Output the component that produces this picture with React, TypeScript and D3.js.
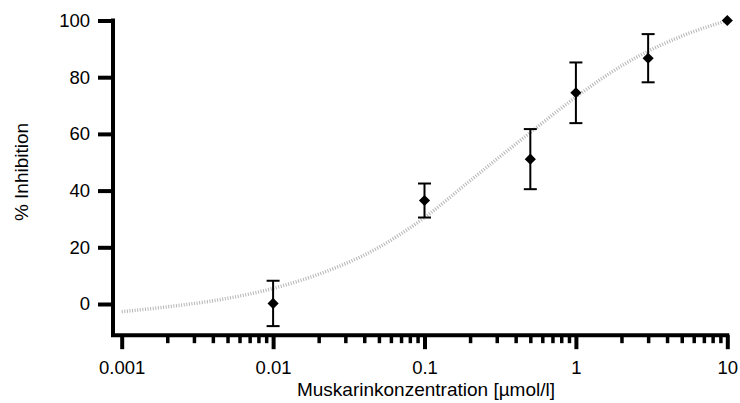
import React, { useRef, useEffect } from 'react';
import * as d3 from 'd3';

// measured points (mean +/- SD)
const CONC = [0.01, 0.1, 0.5, 1, 3, 10];
const INHIBITION = [0.2, 36.5, 51.1, 74.5, 86.7, 100];
const ERR = [8, 6, 10.6, 10.7, 8.5, 0];

// fitted curve
const FIT_CONC = [0.001, 0.002, 0.005, 0.01, 0.02, 0.05, 0.1, 0.2, 0.5, 1, 2, 5, 10];
const FIT_PCT = [-2.7, -1.0, 2.0, 5.5, 10.5, 20, 30.5, 43.5, 60.5, 73, 84, 94.5, 100];

const X_MAJOR = [0.001, 0.01, 0.1, 1, 10];
const X_LABELS = ['0.001', '0.01', '0.1', '1', '10'];
const Y_TICKS = [0, 20, 40, 60, 80, 100];

const FONT = '"Liberation Sans", Arial, sans-serif';

function App() {
    const svgRef = useRef<SVGSVGElement>(null);
    const width = 740;
    const height = 403;

    useEffect(() => {
        const svg = d3.select(svgRef.current);
        svg.selectAll("*").remove();

        const x = d3.scaleLog().domain([0.001, 10]).range([121.7, 727.3]);
        const y = d3.scaleLinear().domain([0, 100]).range([304, 20.5]);
        const yMin = -11;
        const axisX = 113;
        const axisY = y(yMin);

        // minor log ticks (2..9 of each decade)
        const minor: number[] = [];
        X_MAJOR.slice(0, -1).forEach(d => {
            for (let k = 2; k <= 9; k++) minor.push(d * k);
        });

        // fitted curve
        const line = d3.line<number>()
            .x((d, i) => x(FIT_CONC[i]))
            .y(d => y(d))
            .curve(d3.curveMonotoneX);

        svg.append("path")
            .datum(FIT_PCT)
            .attr("fill", "none")
            .attr("stroke", "#b5b5b5")
            .attr("stroke-width", 3.5)
            .attr("stroke-dasharray", "1,1.6")
            .attr("d", line);

        // x axis
        const gxMinor = svg.append("g")
            .attr("transform", `translate(0, ${axisY})`)
            .call(d3.axisBottom(x).tickValues(minor).tickSize(8).tickFormat(() => ""));
        gxMinor.selectAll(".tick line").attr("stroke", "#000").attr("stroke-width", 3.5);

        const gx = svg.append("g")
            .attr("transform", `translate(0, ${axisY})`)
            .call(d3.axisBottom(x).tickValues(X_MAJOR).tickSize(14).tickPadding(12)
                .tickFormat((d, i) => X_LABELS[i]));
        gx.selectAll(".tick line").attr("stroke", "#000").attr("stroke-width", 4);
        gx.selectAll(".tick text")
            .attr("fill", "#000")
            .style("font-family", FONT)
            .style("font-size", "18.5px");
        svg.selectAll(".domain").remove();

        // y axis
        const gy = svg.append("g")
            .attr("transform", `translate(${axisX}, 0)`)
            .call(d3.axisLeft(y).tickValues(Y_TICKS).tickSize(15).tickPadding(8));
        gy.select(".domain").remove();
        gy.selectAll(".tick line").attr("stroke", "#000").attr("stroke-width", 4);
        gy.selectAll(".tick text")
            .attr("fill", "#000")
            .style("font-family", FONT)
            .style("font-size", "18.5px");

        // axis lines
        svg.append("line")
            .attr("x1", axisX).attr("x2", axisX)
            .attr("y1", y(100) - 2).attr("y2", axisY)
            .attr("stroke", "#000").attr("stroke-width", 4);
        svg.append("line")
            .attr("x1", axisX - 2).attr("x2", x(10) + 2)
            .attr("y1", axisY).attr("y2", axisY)
            .attr("stroke", "#000").attr("stroke-width", 4);

        // error bars
        const pts = CONC.map((c, i) => ({ c, v: INHIBITION[i], e: ERR[i] })).filter(d => d.e > 0);
        const eb = svg.append("g").attr("stroke", "#000").attr("stroke-width", 2);
        eb.selectAll(".bar").data(pts).join("line")
            .attr("x1", d => x(d.c)).attr("x2", d => x(d.c))
            .attr("y1", d => y(d.v + d.e)).attr("y2", d => y(d.v - d.e));
        eb.selectAll(".capTop").data(pts).join("line")
            .attr("x1", d => x(d.c) - 6.5).attr("x2", d => x(d.c) + 6.5)
            .attr("y1", d => y(d.v + d.e)).attr("y2", d => y(d.v + d.e));
        eb.selectAll(".capBottom").data(pts).join("line")
            .attr("x1", d => x(d.c) - 6.5).attr("x2", d => x(d.c) + 6.5)
            .attr("y1", d => y(d.v - d.e)).attr("y2", d => y(d.v - d.e));

        // diamond markers
        const diamond = d3.symbol().type(d3.symbolSquare).size(62);
        svg.append("g").selectAll("path").data(CONC).join("path")
            .attr("d", diamond)
            .attr("fill", "#000")
            .attr("transform", (d, i) => `translate(${x(d)}, ${y(INHIBITION[i])}) rotate(45)`);

        // titles
        svg.append("text")
            .attr("x", 426)
            .attr("y", 395.5)
            .attr("text-anchor", "middle")
            .style("font-family", FONT)
            .style("font-size", "19px")
            .text("Muskarinkonzentration [µmol/l]");

        svg.append("text")
            .attr("transform", `translate(28, 172) rotate(-90)`)
            .attr("text-anchor", "middle")
            .style("font-family", FONT)
            .style("font-size", "19px")
            .text("% Inhibition");
    }, []);

    return (
        <svg
            ref={svgRef}
            width={width}
            height={height}
            style={{ position: 'absolute', left: 0, top: 0, background: '#fff' }}
        />
    );
}

export default App;
